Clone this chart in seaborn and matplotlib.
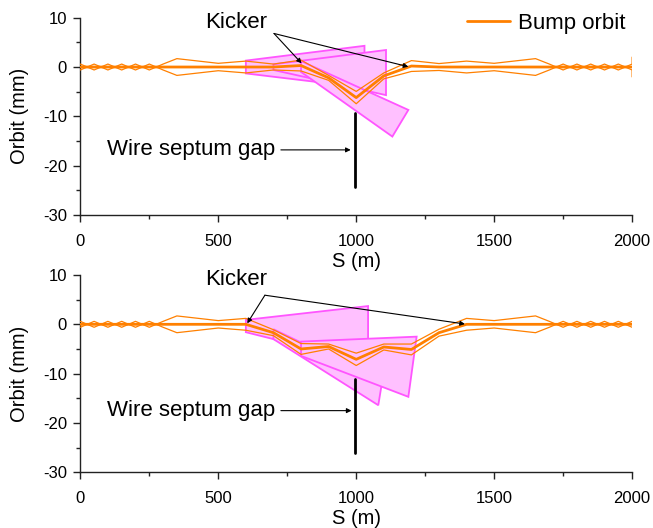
import numpy as np
import pandas as pd
import matplotlib
matplotlib.use("Agg")
import matplotlib.pyplot as plt
import seaborn as sns

sns.set_theme(style="ticks")
plt.rcParams['font.family'] = ['Liberation Sans', 'DejaVu Sans']
plt.rcParams['axes.unicode_minus'] = False
plt.rcParams['text.color'] = 'black'
plt.rcParams['axes.labelcolor'] = 'black'
plt.rcParams['xtick.labelcolor'] = 'black'
plt.rcParams['ytick.labelcolor'] = 'black'

# lattice positions (m)
s_pts = [0, 50, 100, 150, 200, 250, 300, 350, 500, 600, 700, 800, 900, 1000,
         1100, 1200, 1300, 1400, 1500, 1650, 1700, 1750, 1800, 1850, 1900, 1950, 2000]
# beam half width (signed so the braided region crosses)
half_width = [0.6, -0.6, 0.6, -0.6, 0.6, -0.6, 0.6, 1.7, 0.75, 1.2, 0.6, 1.1, 0.5, 1.25,
              0.6, 1.1, 0.7, 1.2, 0.75, 1.7, 0.6, -0.6, 0.6, -0.6, 0.6, -0.6, 0.6]
# bump orbit, top panel (kickers at 800 m and 1200 m)
orbit_top = [0, 0, 0, 0, 0, 0, 0, 0, 0, 0, 0, 0.3, -2.2, -6.2,
             -1.8, 0.2, 0, 0, 0, 0, 0, 0, 0, 0, 0, 0, 0]
# bump orbit, bottom panel (kickers at 600 m and 1400 m)
orbit_bot = [0, 0, 0, 0, 0, 0, 0, 0, 0, 0, -1.7, -5.0, -4.5, -7.1,
             -4.6, -5.1, -1.7, 0, 0, 0, 0, 0, 0, 0, 0, 0, 0]
# envelope end cap at S = 2000 m (top panel only)
end_cap_top = 2.0

# kicker fans (s, orbit) vertices
fan_top = [
    [(600, 1.3), (1030, 4.3), (1030, -4.2), (600, -1.3)],
    [(700, 0.55), (1108, 3.45), (1108, -5.7), (700, -0.6)],
    [(800, 1.2), (1189, -8.7), (1131, -14.1), (800, -1.0)],
]
fan_bot = [
    [(600, 0.9), (1043, 3.7), (1043, -7.8), (600, -1.6)],
    [(700, -1.0), (1094, -11.6), (1080, -16.4), (700, -3.0)],
    [(800, -3.5), (1219, -2.5), (1189, -14.7), (800, -6.4)],
]

septum_s = 995
septum_top = (-9.4, -24.3)
septum_bot = (-11.0, -26.0)

ORANGE = '#FF8000'
PINK_EDGE = '#FF55FF'
PINK_FILL = '#FFC0FF'
AXIS_COLOR = '#222222'

fig = plt.figure(figsize=(6.53, 5.28), dpi=100)
ax1 = fig.add_axes([0.123, 0.5928, 0.845, 0.3737])
ax2 = fig.add_axes([0.123, 0.1055, 0.845, 0.3737])


def draw(ax, orbit, fans, sept, kick_text_xy, kick_targets, gap_text_y, gap_arrow,
         legend, cap=None):
    s_arr = np.array(s_pts, float)
    w_arr = np.array(half_width, float)
    orb = np.array(orbit, float)
    if cap is not None:
        s_arr = np.append(s_arr, s_arr[-1])
        w_arr = np.append(w_arr, cap)
        orb = np.append(orb, orb[-1])
    for poly in fans:
        ax.fill([p[0] for p in poly], [p[1] for p in poly], facecolor=PINK_FILL,
                edgecolor=PINK_EDGE, lw=1.3, zorder=2)
    df = pd.DataFrame({'S': s_arr, 'up': orb + w_arr, 'lo': orb - w_arr, 'orb': orb})
    sns.lineplot(data=df, x='S', y='up', ax=ax, color=ORANGE, lw=0.9, sort=False,
                 estimator=None, zorder=3)
    sns.lineplot(data=df, x='S', y='lo', ax=ax, color=ORANGE, lw=0.9, sort=False,
                 estimator=None, zorder=3)
    sns.lineplot(data=df, x='S', y='orb', ax=ax, color=ORANGE, lw=2.0, sort=False,
                 estimator=None, zorder=4, label='Bump orbit' if legend else None)
    ax.plot([septum_s, septum_s], sept, color='black', lw=2.0, zorder=5)
    ax.text(kick_text_xy[0], kick_text_xy[1], 'Kicker', fontsize=16, ha='center',
            va='baseline', zorder=6)
    for t in kick_targets:
        ax.annotate('', xy=t, xytext=kick_text_xy[2],
                    arrowprops=dict(arrowstyle='-|>', color='black', lw=0.8,
                                    mutation_scale=7, shrinkA=0, shrinkB=0), zorder=6)
    ax.annotate('Wire septum gap', xy=gap_arrow, xytext=(705, gap_text_y),
                fontsize=16, ha='right', va='center',
                arrowprops=dict(arrowstyle='-|>', color='black', lw=0.8,
                                mutation_scale=7, shrinkA=2, shrinkB=0), zorder=6)
    ax.set_xlim(0, 2000)
    ax.set_ylim(-30, 10)
    ax.set_xticks([0, 500, 1000, 1500, 2000])
    ax.set_xticks([250, 750, 1250, 1750], minor=True)
    ax.set_yticks([-30, -20, -10, 0, 10])
    ax.set_yticks([-25, -15, -5, 5], minor=True)
    ax.set_xlabel('S (m)', fontsize=14.5, labelpad=2)
    ax.set_ylabel('Orbit (mm)', fontsize=14.5, labelpad=10)
    ax.tick_params(axis='x', which='major', labelsize=12, length=5, width=1,
                   direction='out', color=AXIS_COLOR, pad=8.5)
    ax.tick_params(axis='y', which='major', labelsize=12, length=5, width=1,
                   direction='out', color=AXIS_COLOR, pad=4.5)
    ax.tick_params(axis='both', which='minor', length=3, width=1, direction='out',
                   color=AXIS_COLOR)
    for sp in ['top', 'right']:
        ax.spines[sp].set_visible(False)
    for sp in ['left', 'bottom']:
        ax.spines[sp].set_linewidth(1.0)
        ax.spines[sp].set_color(AXIS_COLOR)
    if legend:
        ax.legend(loc='upper right', frameon=False, fontsize=16, handlelength=1.9,
                  borderaxespad=0.0, bbox_to_anchor=(1.005, 1.07), handletextpad=0.4)
    else:
        lg = ax.get_legend()
        if lg is not None:
            lg.remove()


draw(ax1, orbit_top, fan_top, septum_top, (564, 7.9, (702, 6.8)),
     [(802, 0.75), (1189, 0.06)], -16.8, (980, -16.8), True, cap=end_cap_top)
draw(ax2, orbit_bot, fan_bot, septum_bot, (564, 7.9, (669, 5.9)),
     [(605, 0.2), (1394, 0.06)], -17.5, (983, -17.5), False)

fig.savefig('out.png', dpi=100)
